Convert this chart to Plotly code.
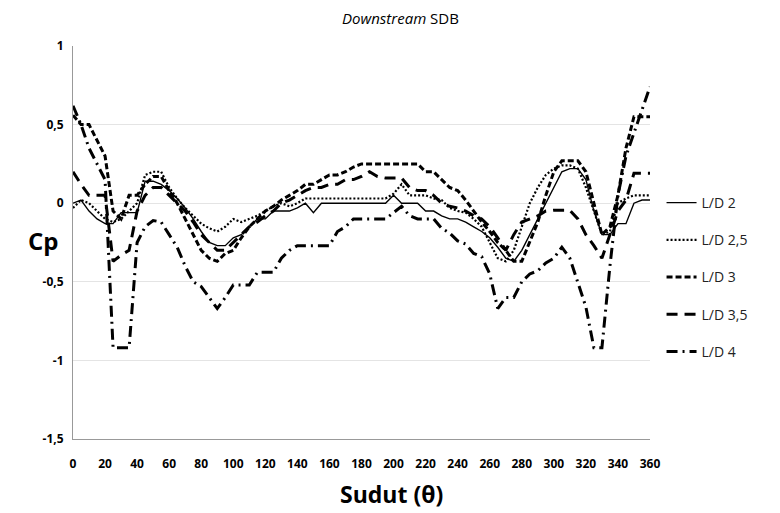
import plotly.graph_objects as go

angles = list(range(0, 361, 5))

cp_ld2 = [0.0, 0.02, -0.05, -0.1, -0.13, -0.13, -0.06, -0.06, -0.06, 0.14, 0.14, 0.12, 0.08, 0.03, -0.03,
          -0.1, -0.18, -0.25, -0.27, -0.27, -0.22, -0.2, -0.15, -0.1, -0.1, -0.05, -0.05, -0.05, -0.03, 0.0,
          -0.06, 0.0, 0.0, 0.0, 0.0, 0.0, 0.0, 0.0, 0.0, 0.0, 0.05, 0.0, 0.0, 0.0, -0.05, -0.05, -0.08, -0.1,
          -0.1, -0.12, -0.15, -0.18, -0.22, -0.28, -0.35, -0.37, -0.3, -0.2, -0.1, 0.0, 0.1, 0.2, 0.22, 0.22,
          0.15, -0.05, -0.2, -0.2, -0.13, -0.13, 0.0, 0.02, 0.02]

cp_ld25 = [-0.03, 0.02, 0.0, -0.05, -0.1, -0.12, -0.1, -0.05, 0.0, 0.18, 0.2, 0.2, 0.1, 0.03, -0.03,
           -0.08, -0.13, -0.16, -0.18, -0.15, -0.1, -0.12, -0.1, -0.08, -0.05, -0.02, 0.0, -0.02, 0.0, 0.03,
           0.03, 0.03, 0.03, 0.03, 0.03, 0.03, 0.03, 0.03, 0.03, 0.03, 0.06, 0.12, 0.05, 0.05, 0.05, 0.03,
           0.02, -0.03, -0.05, -0.06, -0.1, -0.15, -0.25, -0.35, -0.37, -0.3, -0.15, 0.0, 0.1, 0.18, 0.22,
           0.24, 0.24, 0.22, 0.1, -0.05, -0.2, -0.18, 0.0, 0.03, 0.05, 0.05, 0.05]

cp_ld3 = [0.56, 0.5, 0.5, 0.4, 0.3, -0.05, -0.1, 0.05, 0.05, 0.12, 0.17, 0.17, 0.08, 0.0, -0.1,
          -0.2, -0.3, -0.35, -0.37, -0.32, -0.3, -0.22, -0.15, -0.1, -0.05, -0.02, 0.02, 0.05, 0.08, 0.12,
          0.12, 0.15, 0.18, 0.18, 0.2, 0.23, 0.25, 0.25, 0.25, 0.25, 0.25, 0.25, 0.25, 0.25, 0.2, 0.2,
          0.15, 0.1, 0.08, 0.02, -0.05, -0.12, -0.18, -0.25, -0.3, -0.37, -0.37, -0.25, -0.12, 0.05, 0.2,
          0.27, 0.27, 0.27, 0.2, 0.0, -0.2, -0.15, 0.05, 0.35, 0.55, 0.55, 0.55]

cp_ld35 = [0.2, 0.12, 0.05, 0.05, 0.05, -0.37, -0.33, -0.3, -0.05, 0.05, 0.1, 0.1, 0.05, 0.0, -0.05,
           -0.12, -0.2, -0.25, -0.3, -0.3, -0.25, -0.2, -0.15, -0.12, -0.08, -0.05, 0.0, 0.02, 0.05, 0.08,
           0.1, 0.1, 0.12, 0.12, 0.15, 0.15, 0.17, 0.2, 0.17, 0.16, 0.16, 0.16, 0.1, 0.08, 0.08, 0.05,
           0.0, -0.02, -0.03, -0.05, -0.08, -0.1, -0.15, -0.22, -0.3, -0.2, -0.12, -0.1, -0.08, -0.05, -0.045,
           -0.045, -0.045, -0.1, -0.2, -0.27, -0.35, -0.2, -0.05, 0.02, 0.19, 0.19, 0.19]

cp_ld4 = [0.62, 0.5, 0.35, 0.25, 0.15, -0.92, -0.92, -0.92, -0.25, -0.15, -0.11, -0.12, -0.2, -0.28, -0.4,
          -0.5, -0.53, -0.6, -0.67, -0.6, -0.52, -0.52, -0.52, -0.44, -0.44, -0.44, -0.35, -0.3, -0.27, -0.27,
          -0.27, -0.27, -0.27, -0.18, -0.15, -0.1, -0.1, -0.1, -0.1, -0.1, -0.06, -0.02, -0.08, -0.1, -0.1,
          -0.1, -0.16, -0.19, -0.24, -0.26, -0.32, -0.34, -0.45, -0.67, -0.6, -0.6, -0.5, -0.45, -0.43, -0.38,
          -0.35, -0.28, -0.35, -0.5, -0.66, -0.92, -0.92, -0.4, 0.05, 0.3, 0.45, 0.6, 0.74]

series_names = ["L/D 2", "L/D 2,5", "L/D 3", "L/D 3,5", "L/D 4"]
series_values = [cp_ld2, cp_ld25, cp_ld3, cp_ld35, cp_ld4]
styles = [
    dict(width=1.4, dash="solid"),
    dict(width=2.2, dash="2px,2px"),
    dict(width=3, dash="6px,3px"),
    dict(width=3, dash="11px,7px"),
    dict(width=3, dash="11px,5px,2px,5px"),
]

x_ticks = list(range(0, 361, 20))
y_ticks = [1, 0.5, 0, -0.5, -1, -1.5]
y_tick_labels = ["1", "0,5", "0", "-0,5", "-1", "-1,5"]

fig = go.Figure()
for i, (name, vals, st) in enumerate(zip(series_names, series_values, styles)):
    fig.add_trace(go.Scatter(
        x=angles, y=vals, mode="lines", name=name, legendgroup=f"g{i}",
        line=dict(color="black", width=st["width"], dash=st["dash"]),
    ))

# page has an 8px body margin: plot area targets page px 73..650 (x), 46..439 (y)
PW, PH = 577, 393
font_family = "Open Sans, Lato, sans-serif"
fig.update_layout(
    width=772, height=505,
    margin=dict(l=65, r=130, t=38, b=74),
    paper_bgcolor="white", plot_bgcolor="white",
    font=dict(family=font_family, color="black"),
    showlegend=True,
    legend=dict(x=1.02, y=(439 - 277) / PH, xanchor="left", yanchor="middle",
                font=dict(size=14, family=font_family, color="#222"),
                tracegroupgap=16, itemwidth=30, bgcolor="rgba(0,0,0,0)"),
    xaxis=dict(range=[0, 360], tickvals=x_ticks, ticks="", showgrid=False, zeroline=False,
               showline=True, linecolor="#999", linewidth=1,
               tickfont=dict(size=12, family=font_family, weight="bold"), ticklabelstandoff=14),
    yaxis=dict(range=[-1.5, 1], tickvals=y_ticks, ticktext=y_tick_labels, ticks="",
               showgrid=True, gridcolor="#e4e4e4", gridwidth=1, zeroline=False,
               showline=True, linecolor="#999", linewidth=1,
               tickfont=dict(size=12, family=font_family, weight="bold"), ticklabelstandoff=6),
    annotations=[
        dict(text="<i>Downstream</i> SDB", xref="paper", yref="paper", x=(400 - 73) / PW, y=1 + (46 - 18) / PH,
             xanchor="center", yanchor="middle", showarrow=False, font=dict(size=15, family=font_family)),
        dict(text="<b>Cp</b>", xref="paper", yref="paper", x=-(73 - 43) / PW, y=(439 - 240) / PH,
             xanchor="center", yanchor="middle", showarrow=False, font=dict(size=24, family=font_family)),
        dict(text="<b>Sudut (θ)</b>", xref="paper", yref="paper", x=(391 - 73) / PW, y=-(494 - 439) / PH,
             xanchor="center", yanchor="middle", showarrow=False, font=dict(size=23, family=font_family)),
    ],
)

fig.write_html("out.html")
